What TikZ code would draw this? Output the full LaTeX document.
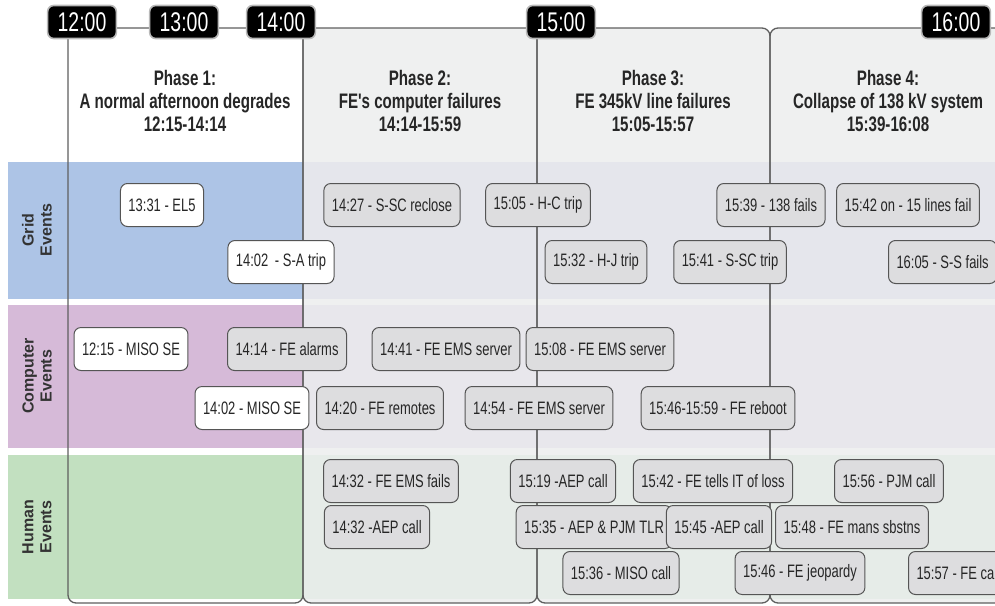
\documentclass[tikz,border=0pt]{standalone}
\usepackage{fontspec}
\setmainfont{Liberation Sans}
\newfontfamily\condfont[FakeStretch=0.72]{Liberation Sans}
\usepackage{xcolor}
\usepackage{tikz}
\usetikzlibrary{positioning}

\definecolor{gridblue}{RGB}{173,196,230}
\definecolor{comppurple}{RGB}{214,186,216}
\definecolor{humgreen}{RGB}{194,224,192}
\definecolor{gridgray}{RGB}{229,230,236}
\definecolor{compgray}{RGB}{232,231,236}
\definecolor{humgray}{RGB}{230,236,232}
\definecolor{headgray}{RGB}{239,240,240}
\definecolor{boxgray}{RGB}{221,221,223}
\definecolor{boxline}{RGB}{85,85,85}
\definecolor{frame}{RGB}{95,95,95}

\begin{document}
\begin{tikzpicture}[x=1pt,y=-1pt]
	\tikzstyle{event}=[draw=boxline,fill=boxgray,rounded corners=7pt,line width=1pt,inner xsep=8pt,minimum height=43pt,text=black!85,font=\condfont\fontsize{18}{20}\selectfont]
	\tikzstyle{early}=[event,fill=white]
	\tikzstyle{clock}=[draw=gray!55,line width=1.6pt,fill=black,rounded corners=6pt,text=white,inner xsep=10pt,minimum height=33pt,font=\condfont\fontsize{27}{29}\selectfont]
	\tikzstyle{phase}=[draw=frame,line width=1.3pt,rounded corners=8pt]
	\tikzstyle{header}=[align=center,text=black!85,font=\condfont\bfseries\fontsize{21}{23}\selectfont]
	\tikzstyle{rowlabel}=[rotate=90,align=center,text=black!80,font=\bfseries\fontsize{16}{18}\selectfont]
	\useasboundingbox (0,0) rectangle (995,605);

	% phase backgrounds
	\fill[white,rounded corners=8pt] (68,28) rectangle (303,603);
	\fill[headgray,rounded corners=8pt] (303,28) rectangle (537,603);
	\fill[headgray,rounded corners=8pt] (537,28) rectangle (770,603);
	\fill[headgray,rounded corners=8pt] (770,28) rectangle (1005,603);

	% row bands
	\fill[gridblue] (8,162) rectangle (303,299);
	\fill[gridgray] (303,162) rectangle (995,299);
	\fill[comppurple] (8,305) rectangle (303,448);
	\fill[compgray] (303,305) rectangle (995,448);
	\fill[humgreen] (8,455) rectangle (303,599);
	\fill[humgray] (303,455) rectangle (995,599);

	% phase frames
	\draw[phase] (68,28) rectangle (303,603);
	\draw[phase] (303,28) rectangle (537,603);
	\draw[phase] (537,28) rectangle (770,603);
	\draw[phase] (770,28) rectangle (1005,603);

	% clock times
	\node[clock](t12) at (82,22) {12:00};
	\node[clock](t13) at (184,22) {13:00};
	\node[clock](t14) at (281,22) {14:00};
	\node[clock](t15) at (561,22) {15:00};
	\node[clock](t16) at (956,22) {16:00};

	% phase headers
	\node[header](ph1) at (185,101) {Phase 1:\\A normal afternoon degrades\\12:15-14:14};
	\node[header](ph2) at (420,101) {Phase 2:\\FE's computer failures\\14:14-15:59};
	\node[header](ph3) at (653,101) {Phase 3:\\FE 345kV line failures\\15:05-15:57};
	\node[header](ph4) at (888,101) {Phase 4:\\Collapse of 138 kV system\\15:39-16:08};

	% row labels
	\node[rowlabel](gridlbl) at (37,230) {Grid\\Events};
	\node[rowlabel](complbl) at (37,376) {Computer\\Events};
	\node[rowlabel](humlbl) at (37,527) {Human\\Events};

	% grid events
	\node[early](grid1331) at (162,205) {13:31 - EL5};
	\node[early](grid1402) at (281,262) {14:02 \,- S-A trip};
	\node[event](grid1427) at (392,205) {14:27 - S-SC reclose};
	\node[event](grid1505) at (538,205) {15:05 - H-C trip};
	\node[event](grid1539) at (771,205) {15:39 - 138 fails};
	\node[event](grid1542) at (908,205) {15:42 on - 15 lines fail};
	\node[event](grid1532) at (596,262) {15:32 - H-J trip};
	\node[event](grid1541) at (730,262) {15:41 - S-SC trip};
	\node[event,anchor=west](grid1605) at (888,262) {16:05 - S-S fails};

	% computer events
	\node[early](comp1215) at (131,349) {12:15 - MISO SE};
	\node[event](comp1414) at (287,349) {14:14 - FE alarms};
	\node[event](comp1441) at (446,349) {14:41 - FE EMS server};
	\node[event](comp1508) at (600,349) {15:08 - FE EMS server};
	\node[early](comp1402) at (252,408) {14:02 - MISO SE};
	\node[event](comp1420) at (380,408) {14:20 - FE remotes};
	\node[event](comp1454) at (539,408) {14:54 - FE EMS server};
	\node[event](comp1546) at (718,408) {15:46-15:59 - FE reboot};

	% human events
	\node[event](hum1432a) at (391,481) {14:32 - FE EMS fails};
	\node[event](hum1432b) at (377,527) {14:32 -AEP call};
	\node[event](hum1519) at (563,481) {15:19 -AEP call};
	\node[event](hum1542) at (713,481) {15:42 - FE tells IT of loss};
	\node[event](hum1556) at (889,481) {15:56 - PJM call};
	\node[event](hum1535) at (594,527) {15:35 - AEP \& PJM TLR};
	\node[event](hum1545) at (719,527) {15:45 -AEP call};
	\node[event](hum1548) at (852,527) {15:48 - FE mans sbstns};
	\node[event](hum1536) at (621,573) {15:36 - MISO call};
	\node[event](hum1546) at (800,573) {15:46 - FE jeopardy};
	\node[event,anchor=west](hum1557) at (908,573) {15:57 - FE call};
\end{tikzpicture}
\end{document}
